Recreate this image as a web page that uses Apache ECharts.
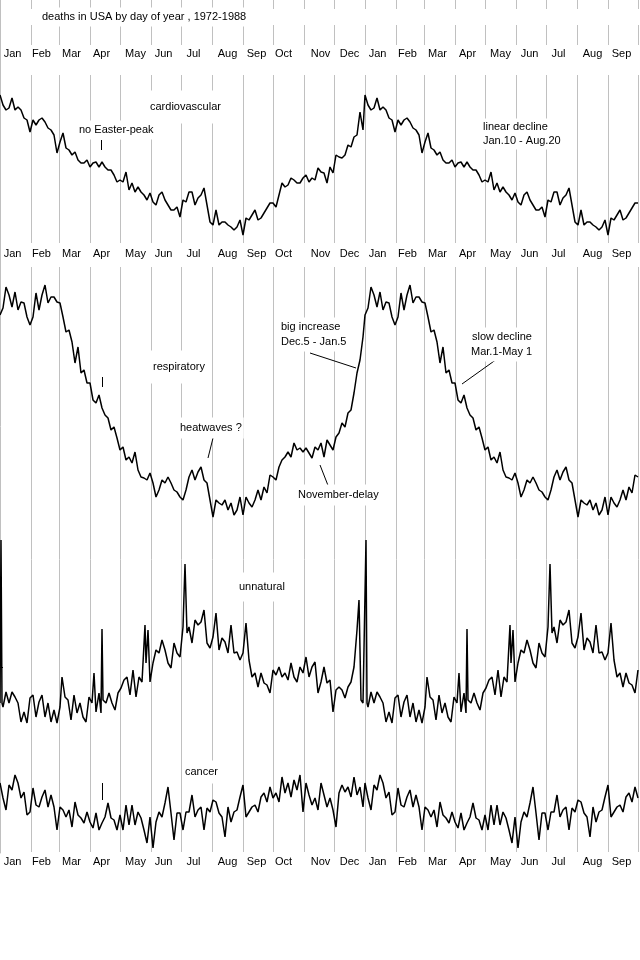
<!DOCTYPE html>
<html><head><meta charset="utf-8">
<script src="https://cdn.jsdelivr.net/npm/echarts@6/dist/echarts.min.js"></script>
<style>html,body{margin:0;padding:0;background:#fff}#c{width:640px;height:960px}</style>
</head><body><div id="c"></div>
<script>
// ---- categories / tick labels ----
const monthNames = ['Jan','Feb','Mar','Apr','May','Jun','Jul','Aug','Sep','Oct','Nov','Dec',
                    'Jan','Feb','Mar','Apr','May','Jun','Jul','Aug','Sep'];
const monthLabelDays = [12,41,71,101,135,163,193,227,256,283,320,349,377,407,437,467,500,529,558,592,621];
const monthBoundaryDays = [31,59,90,120,151,181,212,243,273,304,334,365,396,424,455,485,516,546,577,608,638];

// ---- sampled days (every 3rd day of the year) ----
const sampleDays = [0,3,6,9,12,15,18,21,24,27,30,33,36,39,42,45,48,51,54,57,60,63,66,69,72,75,78,81,84,87,
  90,93,96,99,102,105,108,111,114,117,120,123,126,129,132,135,138,141,144,147,150,153,156,159,162,165,168,171,174,177,
  180,183,186,189,192,195,198,201,204,207,210,213,216,219,222,225,228,231,234,237,240,243,246,249,252,255,258,261,264,267,
  270,273,276,279,282,285,288,291,294,297,300,303,306,309,312,315,318,321,324,327,330,333,336,339,342,345,348,351,354,357,360,363];

// ---- series values (relative level) ----
const cardiovascular = [150,140,135,137,147,135,138,135,127,125, 113,125,120,125,127,123,117,115,110,92,
  103,112,97,95,90,93,85,82,82,85, 78,82,83,78,83,78,75,75,70,63, 65,63,73,55,62,53,58,53,50,45,
  52,43,40,50,53,45,40,35,35,38, 28,45,43,53,53,40,47,50,57,40, 23,20,35,20,23,23,20,18,15,18,
  25,10,27,25,30,35,25,27,32,37, 42,42,38,50,62,58,60,67,65,62, 62,67,70,63,67,65,77,73,72,62,
  78,72,90,88,87,90,100,98,108,110, 133,115];
const respiratory = [215,222,243,235,223,238,220,228,227,213, 205,213,237,220,235,245,227,233,233,228,
  227,213,198,200,188,167,183,157,160,147, 147,130,127,135,122,115,112,100,103,92, 80,83,70,73,67,78,60,53,52,50,
  57,47,33,40,50,47,53,47,40,38, 33,30,40,53,60,50,58,63,50,47, 30,13,30,27,25,30,20,27,15,20,
  33,15,33,27,23,30,40,30,43,37, 55,53,50,63,70,73,78,73,87,80, 82,78,82,77,72,83,80,87,73,90,
  85,80,93,97,107,103,117,120,137,157, 170,193];
const cancer = [77,62,50,75,70,85,77,62,68,45, 48,72,55,53,63,70,53,65,53,30,
  53,50,43,50,33,58,45,42,37,48, 38,32,47,30,37,43,57,42,40,30, 45,30,55,35,55,35,48,42,30,17,
  43,12,38,48,43,57,73,47,20,47, 47,30,48,48,65,43,50,53,30,52, 48,60,58,47,43,23,53,38,48,50,
  63,75,43,48,53,55,48,63,67,58, 73,62,67,58,83,67,77,63,80,70, 85,48,77,65,55,62,50,77,65,53,
  62,50,33,67,75,68,73,63,83,65, 73,53];
const unnaturalDays = [0,1,2,3,6,9,12,15,18,21,24,27,30,33,36,39,42,45,48,51,54,57,60,
  62,65,68,71,74,77,80,83,86,89,92, 94,96,99,101,102,103,
  106,109,112,115,118,121,124,127,130,133,136,139,142, 145,146,148,
  150,153,156,159,162,165,168,171,174,177,180,183, 185,187,189,
  192,195,198,201,204,207,210,213,216,219,222,225,228,231,234,237,240,243,246,249,252,255,258,261,264,267,
  270,273,276,279,282,285,288,291,294,297,300,303,306,309,312,315,318,321,324,327,330,333,336,339,342,345,
  348,351,354,357, 359,361,363];
const unnatural = [27,190,27,23, 38,27,38,33,27,8,18,7,32,35,13,28,35,13,27,8,20,7,23,
  53,33,30,10,35,17,27,13,8,33,27, 57,18,37,17,101,30,
  27,37,27,20,37,42,50,53,35,60,33,53,48, 105,67,100,
  48,67,80,77,90,80,67,62,87,77,73,103, 166,97,103,
  87,110,105,108,120,87,82,93,117,80,92,88,77,105,77,78,70,77,107,70,53,57,43,57,47,45,
  37,60,55,63,53,57,50,67,53,48,63,57,73,53,63,68,37,48,63,47,50,18,40,43,40,32,
  43,48,63,100, 130,30,27];

// ---- helpers ----
const LAST_DAY = 640;
function twoYears(days, vals) {
  const out = [];
  days.forEach((d, i) => out.push([d, vals[i]]));
  days.forEach((d, i) => { if (d + 365 <= LAST_DAY) out.push([d + 365, vals[i]]); });
  return out;
}
const dayCats = [];
for (let i = 0; i <= LAST_DAY; i++) dayCats.push(String(i));
const labelSet = new Set(monthLabelDays);
const boundarySet = new Set(monthBoundaryDays);
const FONT = '"Liberation Sans", Arial, sans-serif';
const GRAY = '#c0c0c0';

// segment grids (vertical month lines + month labels), data grids
const grids = [
  {top: 0, height: 9},      // 0
  {top: 25, height: 20},    // 1  -> top month labels
  {top: 75, height: 168},   // 2  -> middle month labels
  {top: 267, height: 585},  // 3  -> bottom month labels
  {top: 85, height: 160},   // 4 cardiovascular
  {top: 270, height: 260},  // 5 respiratory
  {top: 530, height: 200},  // 6 unnatural
  {top: 760, height: 100},  // 7 cancer
  {top: 0, height: 853}     // 8 left edge
].map((g, i) => Object.assign({left: i < 4 ? 0.5 : 0, width: 640, outerBoundsMode: 'none', containLabel: false, show: false}, g));

const labelMargins = {1: 9, 2: 11, 3: 10};
const xAxes = [], yAxes = [];
for (let g = 0; g < 4; g++) {
  xAxes.push({
    type: 'category', gridIndex: g, data: dayCats, boundaryGap: false, position: 'bottom',
    axisLine: {show: false}, axisTick: {show: false},
    axisLabel: {
      show: g >= 1, interval: (i) => labelSet.has(i),
      formatter: (v, i) => monthNames[monthLabelDays.indexOf(i)] || '',
      margin: labelMargins[g] || 0, verticalAlign: 'middle',
      color: '#000', fontSize: 11, fontFamily: FONT
    },
    splitLine: {show: true, interval: (i) => boundarySet.has(i), lineStyle: {color: GRAY, width: 1}}
  });
  yAxes.push({type: 'value', gridIndex: g, show: false, min: 0, max: 1});
}
const panelMax = [160, 260, 200, 100];
for (let p = 0; p < 4; p++) {
  xAxes.push({type: 'value', gridIndex: 4 + p, min: 0, max: LAST_DAY, show: false});
  yAxes.push({type: 'value', gridIndex: 4 + p, min: 0, max: panelMax[p], show: false});
}
xAxes.push({type: 'value', gridIndex: 8, min: 0, max: 1, show: false});
yAxes.push({type: 'value', gridIndex: 8, min: 0, max: 1, show: true, position: 'left',
  axisLine: {show: true, lineStyle: {color: GRAY, width: 1}}, axisTick: {show: false},
  axisLabel: {show: false}, splitLine: {show: false}});

function pointer(a, b) { return [{coord: a}, {coord: b}]; }
function mk(lines) {
  return {silent: true, symbol: ['none', 'none'], animation: false,
    label: {show: false}, emphasis: {disabled: true},
    lineStyle: {color: '#000', width: 1, type: 'solid'},
    data: lines};
}
function lineSeries(idx, data, marks) {
  return {type: 'line', xAxisIndex: idx, yAxisIndex: idx, data: data,
    symbol: 'none', showSymbol: false, animation: false, silent: true,
    lineStyle: {color: '#000', width: 1.5}, emphasis: {disabled: true},
    markLine: mk(marks)};
}

const series = [
  lineSeries(4, twoYears(sampleDays, cardiovascular), [pointer([101, 105], [101, 95])]),
  lineSeries(5, twoYears(sampleDays, respiratory), [
    pointer([102, 153], [102, 143]),
    pointer([213, 92], [208, 72]),
    pointer([310, 177], [356, 162]),
    pointer([320, 65], [329, 42]),
    pointer([497, 171], [462, 146])
  ]),
  lineSeries(6, twoYears(unnaturalDays, unnatural), [pointer([0, 63], [3, 63])]),
  lineSeries(7, twoYears(sampleDays, cancer), [pointer([102, 77], [102, 60])])
];

function txt(s, x, y, pad) {
  return {type: 'text', x: x, y: y, z: 50,
    style: {text: s, fill: '#000', font: '11px ' + FONT, align: 'left', verticalAlign: 'middle',
      backgroundColor: '#fff', padding: pad || [3, 2, 3, 2]}};
}
const graphics = [
  txt('deaths in USA by day of year , 1972-1988', 40, 17, [4, 2, 4, 2]),
  txt('cardiovascular', 147, 107, [8, 3, 14, 3]),
  txt('no Easter-peak', 77, 130, [4, 2, 4, 2]),
  txt('linear decline', 481, 127, [4, 2, 2, 2]),
  txt('Jan.10 - Aug.20', 481, 141, [2, 2, 4, 2]),
  txt('respiratory', 150, 367, [8, 3, 14, 3]),
  txt('heatwaves ?', 178, 428, [6, 2, 4, 2]),
  txt('big increase', 279, 327, [5, 2, 3, 2]),
  txt('Dec.5 - Jan.5', 279, 342, [3, 2, 5, 2]),
  txt('slow decline', 470, 337, [5, 2, 3, 2]),
  txt('Mar.1-May 1', 469, 352, [3, 2, 5, 2]),
  txt('November-delay', 296, 495, [5, 2, 5, 2]),
  txt('unnatural', 236, 587, [6, 3, 12, 3]),
  txt('cancer', 182, 772, [6, 3, 6, 3])
];

const chart = echarts.init(document.getElementById('c'), null, {renderer: 'canvas'});
chart.setOption({
  backgroundColor: '#fff',
  animation: false,
  grid: grids,
  xAxis: xAxes,
  yAxis: yAxes,
  series: series,
  graphic: graphics
});
</script></body></html>
